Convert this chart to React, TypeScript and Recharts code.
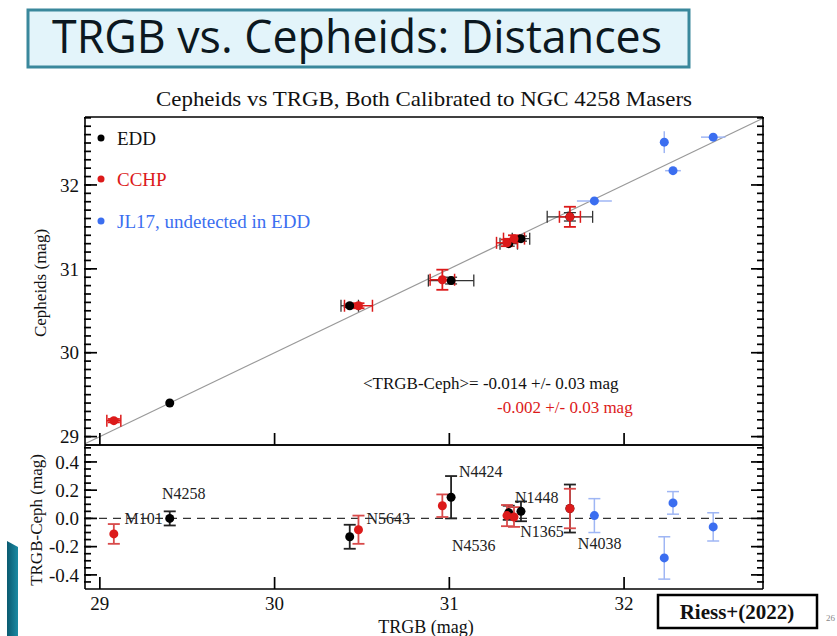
import React from 'react';
import { ScatterChart, Scatter, XAxis, YAxis, ErrorBar, ReferenceLine } from 'recharts';

// EDD (black)
const eddTrgb = [29.40, 30.43, 31.01, 31.34, 31.41, 31.69];
const eddCeph = [29.40, 30.56, 30.86, 31.30, 31.36, 31.62];
const eddTrgbErr = [0.0, 0.05, 0.13, 0.05, 0.05, 0.13];
const eddCephErr = [0.0, 0.02, 0.04, 0.03, 0.03, 0.05];
const eddDiff = [0.0, -0.13, 0.15, 0.04, 0.05, 0.07];
const eddDiffErr = [0.05, 0.085, 0.15, 0.05, 0.07, 0.17];

// CCHP (red)
const cchpTrgb = [29.08, 30.48, 30.96, 31.33, 31.37, 31.69];
const cchpCeph = [29.19, 30.56, 30.87, 31.31, 31.36, 31.62];
const cchpTrgbErr = [0.04, 0.08, 0.07, 0.06, 0.06, 0.06];
const cchpCephErr = [0.02, 0.03, 0.12, 0.04, 0.04, 0.12];
const cchpDiff = [-0.11, -0.08, 0.09, 0.02, 0.01, 0.07];
const cchpDiffErr = [0.07, 0.1, 0.08, 0.075, 0.07, 0.14];

// JL17, undetected in EDD (blue)
const jlTrgb = [31.83, 32.23, 32.28, 32.51];
const jlCeph = [31.81, 32.51, 32.17, 32.57];
const jlTrgbErr = [0.1, 0.02, 0.045, 0.07];
const jlCephErr = [0.0, 0.13, 0.0, 0.0];
const jlDiff = [0.02, -0.28, 0.11, -0.06];
const jlDiffErr = [0.12, 0.15, 0.08, 0.1];

// galaxy name labels in the residual panel
const nameText = ['M101', 'N4258', 'N5643', 'N4424', 'N1448', 'N4536', 'N1365', 'N4038'];
const nameTrgb = [29.25, 29.48, 30.65, 31.18, 31.5, 31.14, 31.53, 31.86];
const nameDiff = [0.0, 0.18, 0.0, 0.33, 0.15, -0.19, -0.09, -0.18];

const xMajor = [29, 30, 31, 32];
const yMajor = [29, 30, 31, 32];
const diffMajor = [-0.4, -0.2, 0.0, 0.2, 0.4];

const X_DOMAIN: [number, number] = [28.915, 32.795];
const Y_DOMAIN: [number, number] = [28.9, 32.81];
const D_DOMAIN: [number, number] = [-0.5, 0.52];

const RED = '#dc1a1a';
const BLUE = '#3b6ef0';
const LIGHT_BLUE = '#9fb6f4';
const SERIF = '"Liberation Serif", "Times New Roman", serif';

const steps = (from: number, to: number, step: number) => {
  const n = Math.round((to - from) / step);
  const out: number[] = [];
  for (let i = 0; i <= n; i++) out.push(Math.round((from + i * step) * 1000) / 1000);
  return out;
};

const xMinor = steps(29, 32.7, 0.1);
const yMinor = steps(29, 32.8, 0.1);
const dMinor = steps(-0.45, 0.5, 0.05);

const tickFont = { fontFamily: SERIF, fontSize: 19, fill: '#111' };
const tickStroke = { stroke: '#000', strokeWidth: 1.7 };
const frame = { stroke: '#000', strokeWidth: 1.6 };
const blank = () => '';

// IDL-style frame: inward major + minor ticks on all four sides (1px thick axes)
const frameAxes = (xDom: [number, number], yDom: [number, number], yMin: number[], yMaj: number[],
  xLabels: boolean, yFmt: (v: number) => string) => [
  <XAxis key="b" type="number" dataKey="x" domain={xDom} allowDataOverflow ticks={xMajor} interval={0}
    height={1} tickSize={-12} tickMargin={20} tickLine={tickStroke} axisLine={frame} tick={tickFont}
    tickFormatter={xLabels ? (v: number) => String(v) : blank} />,
  <XAxis key="bm" xAxisId="bm" type="number" domain={xDom} allowDataOverflow ticks={xMinor} interval={0}
    height={1} tickSize={-7} tickLine={tickStroke} axisLine={false} tickFormatter={blank} />,
  <XAxis key="tM" xAxisId="tM" orientation="top" type="number" domain={xDom} allowDataOverflow ticks={xMajor}
    interval={0} height={1} tickSize={-12} tickLine={tickStroke} axisLine={frame} tickFormatter={blank} />,
  <XAxis key="tm" xAxisId="tm" orientation="top" type="number" domain={xDom} allowDataOverflow ticks={xMinor}
    interval={0} height={1} tickSize={-7} tickLine={tickStroke} axisLine={false} tickFormatter={blank} />,
  <YAxis key="l" type="number" dataKey="y" domain={yDom} allowDataOverflow ticks={yMaj} interval={0}
    width={1} tickSize={-12} tickMargin={18} tickLine={tickStroke} axisLine={frame} tick={tickFont}
    tickFormatter={yFmt} />,
  <YAxis key="lm" yAxisId="lm" type="number" domain={yDom} allowDataOverflow ticks={yMin} interval={0}
    width={1} tickSize={-7} tickLine={tickStroke} axisLine={false} tickFormatter={blank} />,
  <YAxis key="rM" yAxisId="rM" orientation="right" type="number" domain={yDom} allowDataOverflow ticks={yMaj}
    interval={0} width={1} tickSize={-12} tickLine={tickStroke} axisLine={frame} tickFormatter={blank} />,
  <YAxis key="rm" yAxisId="rm" orientation="right" type="number" domain={yDom} allowDataOverflow ticks={yMin}
    interval={0} width={1} tickSize={-7} tickLine={tickStroke} axisLine={false} tickFormatter={blank} />,
];

const dot = (color: string) => (props: any) =>
  <circle cx={props.cx} cy={props.cy} r={4.5} fill={color} />;

const nameShape = (props: any) => (
  <text x={props.cx} y={props.cy} textAnchor="middle" dominantBaseline="central"
    fontFamily={SERIF} fontSize={16} fill="#222">{props.payload.name}</text>
);

const topData = (xs: number[], ys: number[], exs: number[], eys: number[]) =>
  xs.map((x, i) => ({ x, y: ys[i], ex: exs[i], ey: eys[i] }));
const diffData = (xs: number[], ds: number[], eds: number[]) =>
  xs.map((x, i) => ({ x, y: ds[i], ey: eds[i] }));

const eddTop = topData(eddTrgb, eddCeph, eddTrgbErr, eddCephErr);
const cchpTop = topData(cchpTrgb, cchpCeph, cchpTrgbErr, cchpCephErr);
const jlTop = topData(jlTrgb, jlCeph, jlTrgbErr, jlCephErr);
const eddBottom = diffData(eddTrgb, eddDiff, eddDiffErr);
const cchpBottom = diffData(cchpTrgb, cchpDiff, cchpDiffErr);
const jlBottom = diffData(jlTrgb, jlDiff, jlDiffErr);
const names = nameText.map((name, i) => ({ name, x: nameTrgb[i], y: nameDiff[i] }));

const UpperChart = () => (
  <ScatterChart width={837} height={465} margin={{ top: 115, right: 72, bottom: 18, left: 83 }}>
    {frameAxes(X_DOMAIN, Y_DOMAIN, yMinor, yMajor, false, (v) => String(v))}
    <ReferenceLine segment={[{ x: X_DOMAIN[0], y: X_DOMAIN[0] }, { x: X_DOMAIN[1], y: X_DOMAIN[1] }]}
      stroke="#999" strokeWidth={1.2} />
    <Scatter data={eddTop} isAnimationActive={false} shape={dot('#000')}>
      <ErrorBar dataKey="ex" direction="x" width={6} stroke="#333" strokeWidth={1.3} />
      <ErrorBar dataKey="ey" direction="y" width={6} stroke="#333" strokeWidth={1.3} />
    </Scatter>
    <Scatter data={cchpTop} isAnimationActive={false} shape={dot(RED)}>
      <ErrorBar dataKey="ex" direction="x" width={6} stroke={RED} strokeWidth={1.5} />
      <ErrorBar dataKey="ey" direction="y" width={6} stroke={RED} strokeWidth={1.8} />
    </Scatter>
    <Scatter data={jlTop} isAnimationActive={false} shape={dot(BLUE)}>
      <ErrorBar dataKey="ex" direction="x" width={0} stroke={LIGHT_BLUE} strokeWidth={1.5} />
      <ErrorBar dataKey="ey" direction="y" width={0} stroke={LIGHT_BLUE} strokeWidth={1.5} />
    </Scatter>
  </ScatterChart>
);

const LowerChart = () => (
  <ScatterChart width={837} height={196} margin={{ top: 3, right: 72, bottom: 45, left: 83 }}>
    {frameAxes(X_DOMAIN, D_DOMAIN, dMinor, diffMajor, true, (v) => v.toFixed(1))}
    <ReferenceLine y={0} stroke="#333" strokeWidth={1.2} strokeDasharray="8 6" />
    <Scatter data={names} isAnimationActive={false} shape={nameShape} />
    <Scatter data={eddBottom} isAnimationActive={false} shape={dot('#000')}>
      <ErrorBar dataKey="ey" direction="y" width={6} stroke="#222" strokeWidth={1.8} />
    </Scatter>
    <Scatter data={cchpBottom} isAnimationActive={false} shape={dot(RED)}>
      <ErrorBar dataKey="ey" direction="y" width={6} stroke="#d84a4a" strokeWidth={1.8} />
    </Scatter>
    <Scatter data={jlBottom} isAnimationActive={false} shape={dot(BLUE)}>
      <ErrorBar dataKey="ey" direction="y" width={6} stroke={LIGHT_BLUE} strokeWidth={1.5} />
    </Scatter>
  </ScatterChart>
);

const Decorations = () => (
  <svg width={837} height={636} style={{ position: 'absolute', left: 0, top: 0, pointerEvents: 'none' }}>
    <defs>
      <linearGradient id="teal" x1="0" y1="0" x2="1" y2="0">
        <stop offset="0" stopColor="#0a5a70" />
        <stop offset="1" stopColor="#1b8aa3" />
      </linearGradient>
    </defs>
    <rect x={28} y={10} width={661} height={57} fill="#e3f4fa" stroke="#3a889c" strokeWidth={3} />
    <text x={52} y={53} fontFamily='"Open Sans", sans-serif' fontSize={45} fill="#0c1820"
      textLength={610} lengthAdjust="spacingAndGlyphs">TRGB vs. Cepheids: Distances</text>
    <text x={156} y={106} fontFamily={SERIF} fontSize={21} fill="#111"
      textLength={536} lengthAdjust="spacingAndGlyphs">Cepheids vs TRGB, Both Calibrated to NGC 4258 Masers</text>

    <g fontFamily={SERIF} fontSize={19}>
      <circle cx={101} cy={138} r={3.5} fill="#000" />
      <text x={117} y={138} dominantBaseline="central" fill="#111">EDD</text>
      <circle cx={101} cy={179} r={3.5} fill={RED} />
      <text x={117} y={179} dominantBaseline="central" fill={RED}>CCHP</text>
      <circle cx={101} cy={221} r={3.5} fill={BLUE} />
      <text x={117} y={221} dominantBaseline="central" fill={BLUE}>JL17, undetected in EDD</text>
    </g>

    <g fontFamily={SERIF} fontSize={17} style={{ whiteSpace: 'pre' }}>
      <text x={363} y={383} dominantBaseline="central" fill="#111">{'<TRGB-Ceph>= -0.014 +/- 0.03  mag'}</text>
      <text x={497} y={407} dominantBaseline="central" fill={RED}>{'-0.002 +/- 0.03  mag'}</text>
    </g>

    <g fontFamily={SERIF} fontSize={17} fill="#111">
      <text transform="translate(40,283) rotate(-90)" textAnchor="middle" dominantBaseline="central">Cepheids (mag)</text>
      <text transform="translate(36,520) rotate(-90)" textAnchor="middle" dominantBaseline="central">TRGB-Ceph (mag)</text>
      <text x={426} y={627} textAnchor="middle" dominantBaseline="central" fontSize={18}>TRGB (mag)</text>
    </g>

    <polygon points="7,541 18,547 18,636 7,636" fill="url(#teal)" />

    <rect x={658} y={595} width={159} height={33} fill="#fff" stroke="#000" strokeWidth={2.5} />
    <text x={737} y={612} textAnchor="middle" dominantBaseline="central" fontFamily={SERIF}
      fontWeight="bold" fontSize={21} fill="#111">Riess+(2022)</text>
    <text x={826} y={621} fontFamily={SERIF} fontSize={9} fill="#888">26</text>
  </svg>
);

export default function App() {
  return (
    <div style={{ position: 'absolute', left: 0, top: 0, width: 837, height: 636, background: '#fff', overflow: 'hidden' }}>
      <div style={{ position: 'absolute', left: 0, top: 0 }}>
        <UpperChart />
      </div>
      <div style={{ position: 'absolute', left: 0, top: 440 }}>
        <LowerChart />
      </div>
      <Decorations />
    </div>
  );
}
